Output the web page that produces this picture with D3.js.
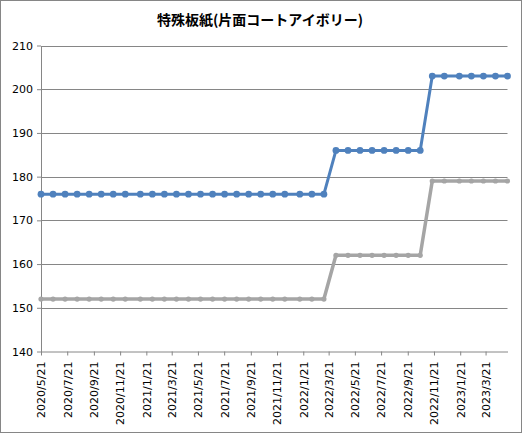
<!DOCTYPE html>
<html lang="ja">
<head>
<meta charset="UTF-8">
<title>特殊板紙(片面コートアイボリー)</title>
<script src="https://d3js.org/d3.v7.min.js"></script>
<style>
  html, body { margin: 0; padding: 0; background: #fff; }
  svg { display: block; }
</style>
</head>
<body>
<div id="chart"></div>
<script>
// survey dates (roughly every 4 weeks)
const dates = [
  "2020-05-21", "2020-06-18", "2020-07-16", "2020-08-13", "2020-09-10", "2020-10-08",
  "2020-11-05", "2020-12-03", "2021-01-07", "2021-02-04", "2021-03-04", "2021-04-01",
  "2021-04-29", "2021-05-27", "2021-06-24", "2021-07-22", "2021-08-19", "2021-09-16",
  "2021-10-14", "2021-11-11", "2021-12-09", "2022-01-13", "2022-02-10", "2022-03-10",
  "2022-04-07", "2022-05-05", "2022-06-02", "2022-06-30", "2022-07-28", "2022-08-25",
  "2022-09-22", "2022-10-20", "2022-11-17", "2022-12-15", "2023-01-19", "2023-02-16",
  "2023-03-16", "2023-04-13", "2023-05-11"
];
const blueValues = [
  176, 176, 176, 176, 176, 176, 176, 176, 176, 176, 176, 176,
  176, 176, 176, 176, 176, 176, 176, 176, 176, 176, 176, 176,
  186, 186, 186, 186, 186, 186, 186, 186,
  203, 203, 203, 203, 203, 203, 203
];
const grayValues = [
  152, 152, 152, 152, 152, 152, 152, 152, 152, 152, 152, 152,
  152, 152, 152, 152, 152, 152, 152, 152, 152, 152, 152, 152,
  162, 162, 162, 162, 162, 162, 162, 162,
  179, 179, 179, 179, 179, 179, 179
];
const xTickLabels = [
  "2020/5/21", "2020/7/21", "2020/9/21", "2020/11/21", "2021/1/21", "2021/3/21",
  "2021/5/21", "2021/7/21", "2021/9/21", "2021/11/21", "2022/1/21", "2022/3/21",
  "2022/5/21", "2022/7/21", "2022/9/21", "2022/11/21", "2023/1/21", "2023/3/21"
];
const yTicks = [140, 150, 160, 170, 180, 190, 200, 210];
const title = "特殊板紙(片面コートアイボリー)";

const W = 523, H = 434;
const plot = { left: 41, right: 507.5, top: 45.5, bottom: 351.5 };

const parseIso = d3.timeParse("%Y-%m-%d");
const parseTick = d3.timeParse("%Y/%m/%d");
const xDates = dates.map(parseIso);

const x = d3.scaleTime()
  .domain(d3.extent(xDates))
  .range([plot.left, plot.right]);
const y = d3.scaleLinear()
  .domain([140, 210])
  .range([plot.bottom, plot.top]);

const svg = d3.select("#chart").append("svg")
  .attr("width", W)
  .attr("height", H);

svg.append("rect")
  .attr("x", 0.5).attr("y", 0.5)
  .attr("width", W - 2).attr("height", H - 2)
  .attr("fill", "#fff")
  .attr("stroke", "#868686");

svg.append("text")
  .attr("x", 260)
  .attr("y", 25)
  .attr("text-anchor", "middle")
  .style("font-family", "'Noto Sans CJK JP', sans-serif")
  .style("font-weight", "bold")
  .style("font-size", "14px")
  .text(title);

// gridlines
svg.append("g")
  .selectAll("line")
  .data(yTicks.filter(t => t !== 140))
  .join("line")
  .attr("x1", plot.left).attr("x2", plot.right)
  .attr("y1", d => Math.round(y(d)) + 0.5)
  .attr("y2", d => Math.round(y(d)) + 0.5)
  .attr("stroke", "#868686");

// y axis
const yAxis = svg.append("g")
  .attr("transform", `translate(${plot.left},0)`)
  .call(d3.axisLeft(y).tickValues(yTicks).tickSize(4).tickSizeOuter(0));
yAxis.select(".domain").attr("stroke", "#868686");
yAxis.selectAll(".tick line").attr("stroke", "#868686");
yAxis.selectAll(".tick text")
  .attr("x", -8)
  .style("font-family", "'DejaVu Sans', sans-serif")
  .style("font-size", "11px")
  .attr("fill", "#000");

// x axis
const xAxis = svg.append("g")
  .attr("transform", `translate(0,${plot.bottom})`)
  .call(d3.axisBottom(x)
    .tickValues(xTickLabels.map(parseTick))
    .tickFormat((d, i) => xTickLabels[i])
    .tickSize(4)
    .tickSizeOuter(0));
xAxis.select(".domain").attr("stroke", "#868686");
xAxis.selectAll(".tick line").attr("stroke", "#868686");
xAxis.selectAll(".tick text")
  .attr("transform", "rotate(-90)")
  .attr("x", -10)
  .attr("y", 0)
  .attr("dy", "0.35em")
  .attr("text-anchor", "end")
  .style("font-family", "'DejaVu Sans', sans-serif")
  .style("font-size", "11px")
  .attr("fill", "#000");

const line = d3.line()
  .x(d => x(d[0]))
  .y(d => y(d[1]));

const series = [
  { values: grayValues, color: "#a5a5a5", width: 3.5, r: 2.6 },
  { values: blueValues, color: "#4f81bd", width: 3, r: 3.4 }
];

series.forEach(s => {
  const pts = xDates.map((d, i) => [d, s.values[i]]);
  svg.append("path")
    .datum(pts)
    .attr("fill", "none")
    .attr("stroke", s.color)
    .attr("stroke-width", s.width)
    .attr("stroke-linejoin", "round")
    .attr("d", line);
  svg.append("g")
    .selectAll("circle")
    .data(pts)
    .join("circle")
    .attr("cx", d => x(d[0]))
    .attr("cy", d => y(d[1]))
    .attr("r", s.r)
    .attr("fill", s.color);
});
</script>
</body>
</html>
